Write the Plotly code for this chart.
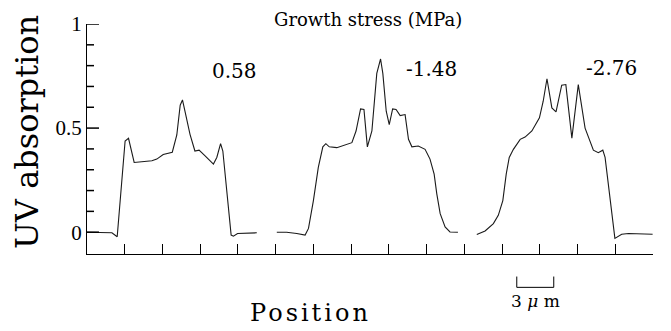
import plotly.graph_objects as go

# ---------------- data (x in tick units along "Position", y = UV absorption) ----------------
curve1_x = [0.0, 0.48, 0.66, 0.80, 1.01, 1.10, 1.25, 1.45, 1.72, 1.85, 2.02, 2.26, 2.38, 2.47,
            2.53, 2.60, 2.73, 2.86, 2.97, 3.13, 3.35, 3.44, 3.54, 3.60, 3.82, 3.88, 3.99, 4.50]
curve1_y = [0.0, 0.0, -0.003, -0.022, 0.438, 0.451, 0.335, 0.338, 0.343, 0.351, 0.373, 0.384, 0.467, 0.61,
            0.635, 0.578, 0.470, 0.390, 0.394, 0.367, 0.327, 0.359, 0.425, 0.390, -0.014, -0.019, -0.006, -0.003]

curve2_x = [5.03, 5.29, 5.56, 5.78, 5.87, 6.00, 6.13, 6.25, 6.33, 6.42, 6.62, 6.84, 7.02, 7.13,
            7.25, 7.34, 7.43, 7.55, 7.68, 7.78, 7.84, 7.93, 8.01, 8.10, 8.19, 8.30, 8.43, 8.52,
            8.61, 8.78, 8.96, 9.09, 9.20, 9.27, 9.36, 9.49, 9.62, 9.83]
curve2_y = [0.0, 0.0, -0.006, -0.014, 0.018, 0.152, 0.311, 0.410, 0.425, 0.410, 0.406, 0.419, 0.430, 0.486,
            0.592, 0.589, 0.410, 0.486, 0.763, 0.832, 0.763, 0.581, 0.517, 0.592, 0.589, 0.560, 0.565, 0.446,
            0.410, 0.414, 0.398, 0.351, 0.279, 0.184, 0.089, 0.025, 0.001, 0.0]

curve3_x = [10.33, 10.55, 10.77, 10.90, 11.02, 11.11, 11.19, 11.30, 11.48, 11.61, 11.79, 11.99, 12.09,
            12.19, 12.32, 12.43, 12.58, 12.69, 12.85, 13.02, 13.20, 13.31, 13.42, 13.55, 13.67, 13.73,
            13.84, 13.99, 14.17, 14.35, 14.99]
curve3_y = [-0.011, 0.006, 0.041, 0.081, 0.152, 0.279, 0.359, 0.398, 0.446, 0.457, 0.486, 0.549, 0.629,
            0.737, 0.597, 0.578, 0.706, 0.709, 0.452, 0.709, 0.500, 0.446, 0.394, 0.382, 0.394, 0.359,
            0.184, -0.030, -0.010, -0.006, -0.010]

stress_labels = ["0.58", "-1.48", "-2.76"]
stress_label_x = [3.92, 9.14, 13.89]
stress_label_y = [0.776, 0.786, 0.790]

y_major_ticks = [0, 0.5, 1]
y_minor_ticks = [0.1, 0.2, 0.3, 0.4, 0.6, 0.7, 0.8, 0.9]

x_range = [0, 15]
y_range = [-0.1048, 1.0]

scale_bar_start = 11.39   # in tick units
scale_bar_len = 0.98      # one tick interval = 3 um
scale_bar_text = "3 <i>μ</i> m"

# ---------------- figure ----------------
PLOT_W = 671 - 87 - 18
LINE = dict(color="#1a1a1a", width=1.1)
fig = go.Figure()
for xs, ys in [(curve1_x, curve1_y), (curve2_x, curve2_y), (curve3_x, curve3_y)]:
    fig.add_trace(go.Scatter(x=xs, y=ys, mode="lines", line=LINE, showlegend=False,
                             hoverinfo="skip"))

SERIF = "DejaVu Serif"
TIMES = "Liberation Serif"

for t, x, y in zip(stress_labels, stress_label_x, stress_label_y):
    fig.add_annotation(x=x, y=y, xref="x", yref="y", text=t, showarrow=False,
                       font=dict(family=SERIF, size=20, color="black"),
                       xanchor="center", yanchor="middle")

fig.add_annotation(x=0.497, y=1.02, xref="paper", yref="paper",
                   text="Growth stress (MPa)", showarrow=False,
                   font=dict(family=SERIF, size=18, color="black"),
                   xanchor="center", yanchor="middle")

fig.add_annotation(x=0.394, y=-0.255, xref="paper", yref="paper",
                   text='<span style="letter-spacing:3px">Position</span>', showarrow=False,
                   font=dict(family=SERIF, size=24, color="black"),
                   xanchor="center", yanchor="middle")
fig.add_annotation(x=-0.106, y=0.530, xref="paper", yref="paper",
                   text="UV absorption", showarrow=False, textangle=-90,
                   font=dict(family=SERIF, size=32, color="black"),
                   xanchor="center", yanchor="middle")

# y-axis tick marks (inside, pointing right)
for v in y_major_ticks:
    fig.add_shape(type="line", xref="paper", yref="y", x0=0, x1=12 / PLOT_W, y0=v, y1=v,
                  line=dict(color="black", width=1.5))
for v in y_minor_ticks:
    fig.add_shape(type="line", xref="paper", yref="y", x0=0, x1=7 / PLOT_W, y0=v, y1=v,
                  line=dict(color="black", width=1.5))

# scale bar
x0 = scale_bar_start
x1 = scale_bar_start + scale_bar_len
fig.add_shape(type="path", xref="x", yref="paper",
              path=f"M {x0},-0.098 L {x0},-0.145 L {x1},-0.145 L {x1},-0.098",
              line=dict(color="black", width=1))
fig.add_annotation(x=(x0 + x1) / 2, y=-0.205, xref="x", yref="paper",
                   text=scale_bar_text, showarrow=False,
                   font=dict(family=SERIF, size=17, color="black"),
                   xanchor="center", yanchor="middle")

fig.update_layout(
    width=671, height=331,
    margin=dict(l=87, r=18, t=22, b=77),
    plot_bgcolor="white", paper_bgcolor="white",
    xaxis=dict(range=x_range, showline=True, linecolor="black", linewidth=1.2,
               ticks="inside", tick0=0, dtick=1, ticklen=10, tickcolor="black", tickwidth=1,
               showticklabels=False, showgrid=False, zeroline=False),
    yaxis=dict(range=y_range, showline=True, linecolor="black", linewidth=1.2,
               ticks="", tickmode="array", tickvals=y_major_ticks,
               tickfont=dict(family=TIMES, size=21, color="black"),
               ticksuffix="  ", showgrid=False, zeroline=False),
)

fig.write_html("out.html")
